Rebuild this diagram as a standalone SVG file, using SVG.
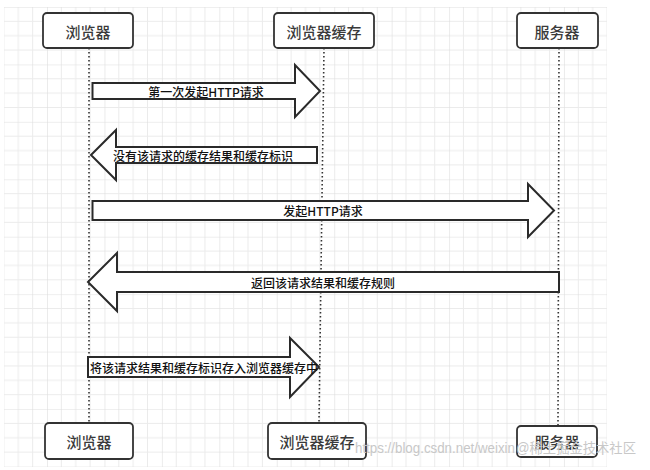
<svg xmlns="http://www.w3.org/2000/svg" width="650" height="470" viewBox="0 0 650 470">
<defs>
<pattern id="grid" patternUnits="userSpaceOnUse" x="-10.44" y="6.96" width="57.44" height="57.44">
<path d="M14.36,0V57.44M28.72,0V57.44M43.08,0V57.44M0,14.36H57.44M0,28.72H57.44M0,43.08H57.44" stroke="#ebebeb" stroke-width="1" fill="none"/>
<path d="M0,0V57.44M0,0H57.44" stroke="#dedede" stroke-width="1.2" fill="none"/>
</pattern>
<style>
.box{fill:#fff;stroke:#333;stroke-width:1.8}
.nl{font-family:"Noto Sans CJK SC","Noto Sans",sans-serif;font-size:15px;font-weight:500;fill:#3a3a3a;text-anchor:middle;dominant-baseline:central}
.life{stroke:#333;stroke-width:1.6;stroke-dasharray:1.6 2.4;fill:none}
.arr{fill:#fff;stroke:#2a2a2a;stroke-width:2;stroke-linejoin:miter}
.al{font-family:"Noto Sans CJK SC","Noto Sans",sans-serif;font-size:12px;font-weight:500;fill:#111;text-anchor:middle;dominant-baseline:central}
.wm{font-family:"Liberation Sans","Noto Sans CJK SC",sans-serif;font-size:14px;fill:#c8c8c8;dominant-baseline:central}
</style>
</defs>
<rect x="0" y="0" width="650" height="470" fill="#fff"/>
<rect x="4" y="7" width="603" height="460" fill="url(#grid)"/>
<g id="lifelines">
<line class="life" x1="89" y1="48" x2="89" y2="423"/>
<line class="life" x1="324" y1="48" x2="319" y2="423"/>
<line class="life" x1="559" y1="48" x2="558" y2="426"/>
</g>
<g id="connectors">
<g id="msg1"><path class="arr" d="M92.5,83H295V65L320,91L295,117V99H92.5Z"/><text class="al" x="206" y="91">第一次发起HTTP请求</text></g>
<g id="msg2"><path class="arr" d="M91,155L116,130V147H317V163H116V180Z"/><text class="al" x="203" y="155">没有该请求的缓存结果和缓存标识</text></g>
<g id="msg3"><path class="arr" d="M92.5,201H528V184L554,210.5L528,237V220H92.5Z"/><text class="al" x="323" y="210.5">发起HTTP请求</text></g>
<g id="msg4"><path class="arr" d="M88,282L117,253V272H559V292H117V311Z"/><text class="al" x="323" y="282">返回该请求结果和缓存规则</text></g>
<g id="msg5"><path class="arr" d="M88,357H290V338L319,367L290,397V377H88Z"/><text class="al" x="204" y="367">将该请求结果和缓存标识存入浏览器缓存中</text></g>
</g>
<g id="browser-top"><rect class="box" x="43" y="13" width="90" height="35" rx="4"/><text class="nl" x="88" y="31">浏览器</text></g>
<g id="cache-top"><rect class="box" x="274" y="13" width="100" height="35" rx="4"/><text class="nl" x="324" y="31">浏览器缓存</text></g>
<g id="server-top"><rect class="box" x="517" y="13" width="81" height="35" rx="4"/><text class="nl" x="557" y="31">服务器</text></g>
<g id="browser-bottom"><rect class="box" x="45" y="423" width="88" height="36" rx="4"/><text class="nl" x="89" y="441">浏览器</text></g>
<g id="cache-bottom"><rect class="box" x="268" y="423" width="98" height="36" rx="4"/><text class="nl" x="317" y="441">浏览器缓存</text></g>
<g id="server-bottom"><rect class="box" x="517" y="426" width="80" height="31" rx="4"/><text class="nl" x="557" y="441">服务器</text></g>
<g id="watermark">
<text class="wm" x="355" y="448" textLength="160" lengthAdjust="spacingAndGlyphs">https://blog.csdn.net/weixin</text>
<text class="wm" x="516" y="448" textLength="120" lengthAdjust="spacingAndGlyphs">@稀土掘金技术社区</text>
</g>
</svg>
